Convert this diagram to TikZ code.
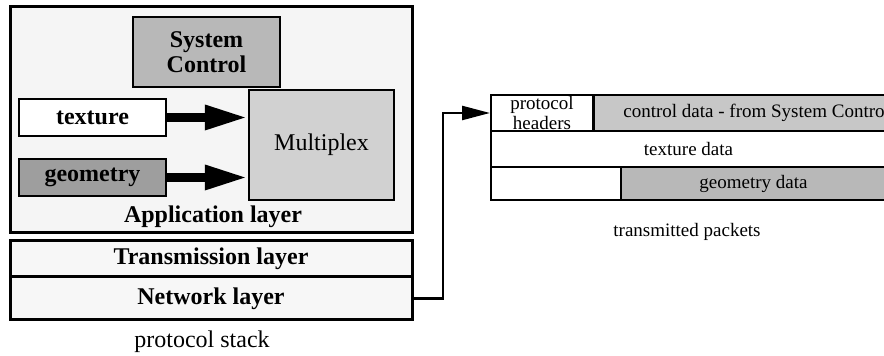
\documentclass[tikz,border=0pt]{standalone}
\usepackage{fontspec}
\setmainfont{Liberation Serif}
\usetikzlibrary{arrows.meta}
\definecolor{appbg}{gray}{0.96}
\definecolor{sysc}{gray}{0.72}
\definecolor{geo}{gray}{0.62}
\definecolor{mux}{gray}{0.82}
\definecolor{ctl}{gray}{0.78}
\definecolor{geod}{gray}{0.72}
\definecolor{layerbg}{gray}{0.97}
\tikzset{
  lbox/.style={draw=black, line width=1.5pt, inner sep=0pt},
  ibox/.style={draw=black, line width=1.2pt, inner sep=0pt, font=\fontsize{12}{12.5}\selectfont\bfseries, align=center},
  cell/.style={draw=black, line width=1pt, inner sep=0pt, font=\fontsize{9.5}{8.5}\selectfont, align=center},
  bigarrow/.style={line width=4.5pt, -{Triangle[length=21.5pt,width=11.5pt]}},
  linkarrow/.style={line width=1.2pt, -{Triangle[length=14pt,width=7pt]}},
  caption/.style={inner sep=0pt, font=\fontsize{12}{14}\selectfont},
  pcaption/.style={inner sep=0pt, font=\fontsize{9.5}{11}\selectfont}
}
\begin{document}
\begin{tikzpicture}[x=0.5pt,y=-0.5pt]
\clip (0,0) rectangle (884,356);
\fill[white] (0,0) rectangle (884,356);
% protocol stack
\node[lbox, fill=appbg, minimum width=201pt, minimum height=113pt] (app) at (211,120) {};
\node[ibox, fill=sysc, minimum width=73.5pt, minimum height=35pt] (sys) at (206.5,52) {System\\Control};
\node[ibox, fill=white, minimum width=73.5pt, minimum height=18.5pt] (tex) at (92.5,117.5) {texture};
\node[ibox, fill=geo, minimum width=73.5pt, minimum height=18.5pt] (geom) at (92.5,177.5) {geometry};
\node[ibox, fill=mux, minimum width=72.5pt, minimum height=55pt, font=\fontsize{12}{14}\selectfont] (mux) at (321.5,145) {Multiplex};
\node[caption, font=\fontsize{12}{14}\selectfont\bfseries] (applbl) at (213,217) {Application layer};
\node[lbox, fill=layerbg, minimum width=201pt, minimum height=18pt, font=\fontsize{12}{14}\selectfont\bfseries] (trans) at (211,259) {Transmission layer};
\node[lbox, fill=layerbg, minimum width=201pt, minimum height=21.5pt, font=\fontsize{12}{14}\selectfont\bfseries] (net) at (211,298.5) {Network layer};
\node[caption] (stack) at (202,342) {protocol stack};
\draw[bigarrow] (tex.east) -- (mux.west |- tex.east);
\draw[bigarrow] (geom.east) -- (mux.west |- geom.east);
% packets
\node[cell, fill=white, minimum width=51pt, minimum height=18pt] (hdr) at (542,113) {protocol\\headers};
\node[cell, fill=ctl, minimum width=160pt, minimum height=18pt, anchor=west, align=left, inner xsep=11pt] (ctrl) at (593,113) {control data - from System Contro};
\node[cell, fill=white, minimum width=197.5pt, minimum height=18pt] (texd) at (688.5,149) {texture data};
\node[cell, fill=white, minimum width=65pt, minimum height=16.5pt] (blank) at (556,183.5) {};
\node[cell, fill=geod, minimum width=132.5pt, minimum height=16.5pt] (geod) at (753.5,183.5) {geometry data};
\node[pcaption] (tp) at (687,232) {transmitted packets};
\coordinate (bend) at (443,298.5);
\draw[linkarrow] (net.east) -- (bend) |- (hdr.west);
\end{tikzpicture}
\end{document}
